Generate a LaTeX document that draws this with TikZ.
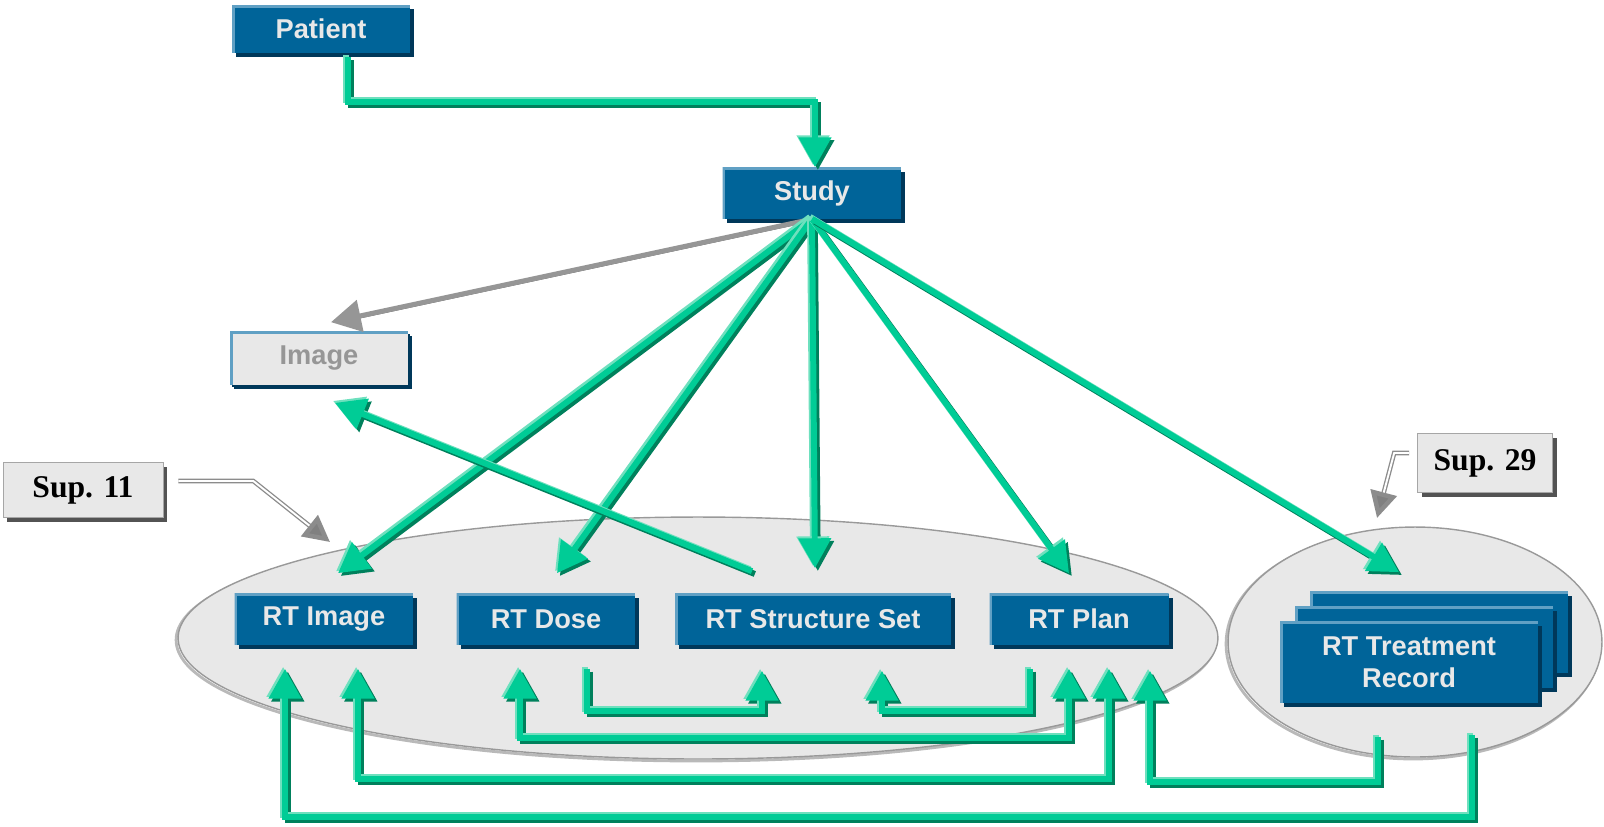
\documentclass[tikz,border=0pt]{standalone}
\usepackage{fontspec}
\setmainfont{Liberation Serif}
\setsansfont{Liberation Sans}
\usetikzlibrary{arrows.meta,calc}

\definecolor{boxblue}{RGB}{0,100,153}
\definecolor{boxedge}{RGB}{96,160,196}
\definecolor{boxshadow}{RGB}{0,56,90}
\definecolor{boxtext}{RGB}{232,232,232}
\definecolor{groupfill}{RGB}{232,232,232}
\definecolor{flowgreen}{RGB}{0,204,150}
\definecolor{flowdark}{RGB}{0,128,92}
\definecolor{flowlight}{RGB}{110,224,190}
\definecolor{arrowgray}{RGB}{150,150,150}

\tikzset{
  >={Triangle[length=17pt,width=18pt]},
  box/.style={rectangle, fill=boxblue, text=boxtext, inner sep=0pt, align=center,
    font=\sffamily\bfseries\fontsize{15.5}{18}\selectfont,
    minimum width=3.58cm, minimum height=1.02cm,
    preaction={fill=boxshadow, transform canvas={shift={(0.08cm,-0.08cm)}}},
    path picture={\draw[boxedge, line width=3pt] (path picture bounding box.south west)
      -- (path picture bounding box.north west) -- (path picture bounding box.north east);}},
  greybox/.style={box, fill=groupfill, text=arrowgray,
    preaction={fill=boxshadow, transform canvas={shift={(0.04cm,-0.04cm)}}}},
  supbox/.style={rectangle, fill=groupfill, draw=gray!70, inner sep=0pt,
    font=\rmfamily\bfseries\fontsize{18}{21}\selectfont,
    preaction={fill=gray!65!black, transform canvas={shift={(0.08cm,-0.08cm)}}}},
  group/.style={fill=groupfill, draw=gray!80, line width=0.8pt,
    preaction={draw=gray!55, line width=1.6pt, transform canvas={shift={(-0.04cm,-0.04cm)}}}},
  flow/.style={draw=flowgreen, line width=3.4pt,
    preaction={draw=flowdark, line width=3.4pt, transform canvas={shift={(1.6pt,-1.6pt)}}},
    preaction={draw=flowlight, line width=3.4pt, transform canvas={shift={(-1.1pt,1.1pt)}}}},
  greyflow/.style={draw=arrowgray, line width=2.8pt,
    preaction={draw=gray!70!black, transform canvas={shift={(1pt,-1pt)}}}},
  supline/.style={draw=gray!90, line width=2.6pt},
}

\begin{document}
\begin{tikzpicture}[x=0.02cm, y=-0.02cm]
\useasboundingbox (0,0) rectangle (1604,826);

% groups
\draw[group] (698,638) ellipse [x radius=10.4cm, y radius=2.42cm];
\draw[group] (1415,642) ellipse [x radius=3.74cm, y radius=2.3cm];

% objects
\node[box, minimum width=3.56cm, minimum height=0.96cm] (patient) at (321,29) {Patient};
\node[box] (study) at (812,193) {Study};
\node[greybox, minimum width=3.56cm, minimum height=1.06cm] (image) at (319,358) {Image};

\node[box] (rtimage) at (324,619) {RT Image};
\node[box] (rtdose) at (546,619) {RT Dose};
\node[box, minimum width=5.52cm] (rtstruct) at (813,619) {RT Structure Set};
\node[box] (rtplan) at (1079,619) {RT Plan};

\node[box, minimum width=5.16cm, minimum height=1.62cm] (rtrecC) at (1439,632) {};
\node[box, minimum width=5.16cm, minimum height=1.62cm] (rtrecB) at (1424,647) {};
\node[box, minimum width=5.16cm, minimum height=1.62cm] (rtrec) at (1409,662) {RT Treatment\\Record};

\node[supbox, minimum width=3.2cm, minimum height=1.1cm] (sup11) at (83,490) {Sup. 11\hspace{0.5cm}};
\node[supbox, minimum width=2.7cm, minimum height=1.18cm] (sup29) at (1485,463) {Sup. 29};

% patient to study
\draw[flow, ->] ($(patient.south)+(27,4)$) |- ($(study.north)+(3,-65)$) -- ($(study.north)+(3,0)$);

% study fan
\draw[greyflow, ->] ($(study.south)+(-8,2)$) -- ($(image.north)+(12,-9)$);
\draw[flow, ->] (study.south) -- ($(rtimage.north)+(14,-20)$);
\draw[flow, ->] (study.south) -- ($(rtdose.north)+(11,-20)$);
\draw[flow, ->] (study.south) -- ($(rtstruct.north)+(2,-25)$);
\draw[flow, ->] (study.south) -- ($(rtplan.north)+(-10,-20)$);
\draw[flow, ->] (study.south) -- ($(rtrec.north)+(-10,-49)$);

% structure set back to image
\draw[flow, ->] ($(rtstruct.north)+(-61,-22)$) -- ($(image.south)+(16,18)$);

% references under the boxes
\draw[flow, ->] ($(rtdose.south)+(41,24)$) -- ++(0,42) -| ($(rtstruct.south)+(-51,26)$);
\draw[flow, ->] ($(rtplan.south)+(-49,24)$) -- ++(0,42) -| ($(rtstruct.south)+(69,26)$);
\draw[flow, <->] ($(rtdose.south)+(-26,24)$) -- ++(0,69) -| ($(rtplan.south)+(-10,24)$);
\draw[flow, <->] ($(rtimage.south)+(34,24)$) -- ++(0,110) -| ($(rtplan.south)+(30,24)$);
\draw[flow, ->] ($(rtrec.south)+(-31,34)$) -- ++(0,45) -| ($(rtplan.south)+(71,26)$);
\draw[flow, ->] ($(rtrec.south)+(63,32)$) -- ++(0,82) -| ($(rtimage.south)+(-39,24)$);

% supplement pointers
\coordinate (sup11tip) at (330,542);
\coordinate (sup29tip) at (1377,518);
\draw[supline, -{Triangle[length=15pt,width=15pt,fill=gray]}] ($(sup11.east)+(15,-9)$) -- ++(75,0) -- (sup11tip);
\draw[white, line width=1.1pt, shorten >=15pt] ($(sup11.east)+(15,-9)$) -- ++(75,0) -- (sup11tip);
\draw[supline, -{Triangle[length=15pt,width=15pt,fill=gray]}] ($(sup29.west)+(-8,-10)$) -- ++(-15,0) -- (sup29tip);
\draw[white, line width=1.1pt, shorten >=15pt] ($(sup29.west)+(-8,-10)$) -- ++(-15,0) -- (sup29tip);
\end{tikzpicture}
\end{document}
